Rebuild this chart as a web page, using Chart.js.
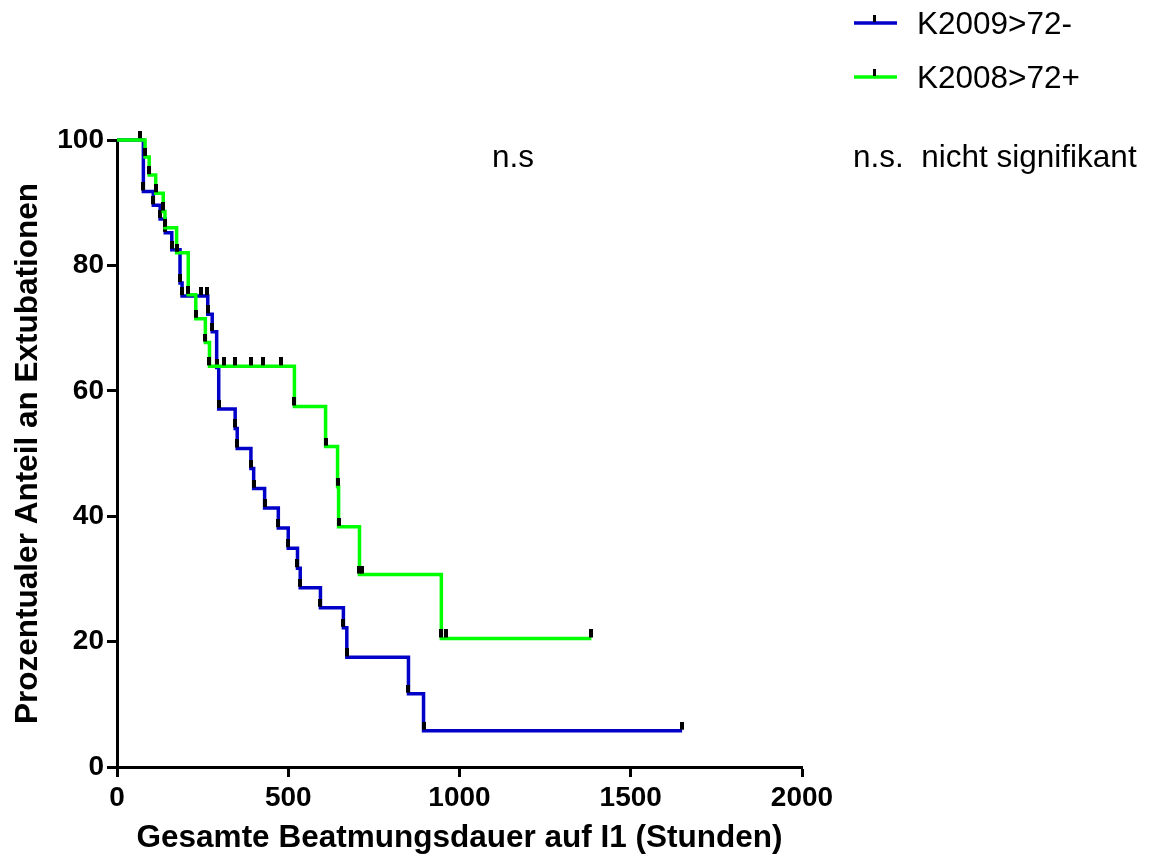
<!DOCTYPE html>
<html lang="de">
<head>
<meta charset="utf-8">
<title>Beatmungsdauer Kaplan-Meier</title>
<script src="https://cdn.jsdelivr.net/npm/chart.js@4.4.1/dist/chart.umd.min.js"></script>
<style>
    html, body { margin: 0; padding: 0; background: #fff; }
    #wrap { width: 1157px; height: 858px; position: relative; }
</style>
</head>
<body>
<div id="wrap"><canvas id="kmChart" width="1157" height="858"></canvas></div>
<script>
// Gruppe K2009>72- : Zeitpunkte (Stunden) und Anteil (%) nach jedem Ereignis/Zensur
const blueLabel = 'K2009>72-';
const blueHours = [0, 67, 77, 106, 126, 141, 160, 184, 190, 245, 262, 265, 278, 291, 297, 345, 351, 391, 399, 431, 471, 500, 527, 535, 594, 661, 671, 851, 895, 1650];
const bluePercent = [100, 100, 91.8, 89.6, 87.4, 85.2, 82.5, 77.2, 75.1, 75.1, 75.1, 72.2, 69.4, 63.7, 57.1, 54.0, 50.8, 47.6, 44.4, 41.3, 38.1, 34.9, 31.7, 28.6, 25.4, 22.2, 17.5, 11.7, 5.8, 5.8];

// Gruppe K2008>72+
const greenLabel = 'K2008>72+';
const greenHours = [0, 82, 94, 113, 135, 140, 174, 208, 230, 258, 270, 311, 345, 391, 425, 479, 518, 609, 644, 647, 708, 714, 947, 962, 1385];
const greenPercent = [100, 97.3, 94.4, 91.5, 88.6, 86.0, 82.0, 75.3, 71.5, 67.7, 63.9, 63.9, 63.9, 63.9, 63.9, 63.9, 57.5, 51.1, 44.7, 38.3, 30.7, 30.7, 20.5, 20.5, 20.5];

const xTicks = [0, 500, 1000, 1500, 2000];
const yTicks = [0, 20, 40, 60, 80, 100];

const blueColor = '#0000c8';
const greenColor = '#00ff00';
const fontFamily = "'Liberation Sans', Arial, Helvetica, sans-serif";

// kleiner senkrechter Strich oberhalb des Punktes als Symbol
function makeTickMark() {
    const c = document.createElement('canvas');
    c.width = 4;
    c.height = 18;
    const g = c.getContext('2d');
    g.fillStyle = '#000';
    g.fillRect(0, 0, 4, 8);
    return c;
}
const tickMark = makeTickMark();

function toPoints(hours, percent) {
    return hours.map((h, i) => ({ x: h, y: percent[i] }));
}

function kmDataset(label, hours, percent, color, order) {
    return {
        label: label,
        data: toPoints(hours, percent),
        stepped: 'before',
        borderColor: color,
        backgroundColor: color,
        borderWidth: 3.5,
        fill: false,
        pointStyle: tickMark,
        pointRadius: ctx => ctx.dataIndex === 0 ? 0 : 3,
        pointHoverRadius: 3,
        clip: false,
        order: order
    };
}

// Legende rechts oben und Signifikanzhinweis
const notesPlugin = {
    id: 'notes',
    afterDraw(chart) {
        const ctx = chart.ctx;
        const rows = [
            { label: blueLabel, color: blueColor, y: 23 },
            { label: greenLabel, color: greenColor, y: 77 }
        ];
        ctx.save();
        ctx.font = '31.5px ' + fontFamily;
        ctx.textBaseline = 'alphabetic';
        ctx.textAlign = 'left';
        rows.forEach(r => {
            ctx.strokeStyle = r.color;
            ctx.lineWidth = 3.5;
            ctx.beginPath();
            ctx.moveTo(854, r.y);
            ctx.lineTo(897, r.y);
            ctx.stroke();
            ctx.fillStyle = '#000';
            ctx.fillRect(873, r.y - 8, 3, 7);
            ctx.fillText(r.label, 917, r.y + 11);
        });
        ctx.fillStyle = '#000';
        ctx.fillText('n.s.  nicht signifikant', 853, 167);
        ctx.fillText('n.s', 492, 167);
        ctx.restore();
    }
};

const chart = new Chart(document.getElementById('kmChart'), {
    type: 'line',
    data: {
        datasets: [
            kmDataset(blueLabel, blueHours, bluePercent, blueColor, 2),
            kmDataset(greenLabel, greenHours, greenPercent, greenColor, 1)
        ]
    },
    options: {
        responsive: false,
        animation: false,
        layout: { padding: { left: 0, top: 140, right: 355, bottom: 0 } },
        plugins: {
            legend: { display: false },
            tooltip: { enabled: false }
        },
        scales: {
            x: {
                type: 'linear',
                min: 0,
                max: 2000,
                afterFit: s => { s.height = 91; },
                afterBuildTicks: s => { s.ticks = xTicks.map(v => ({ value: v })); },
                border: { display: true, color: '#000', width: 3 },
                grid: { drawOnChartArea: false, drawTicks: true, tickLength: 10, tickWidth: 3, tickColor: '#000' },
                ticks: {
                    color: '#000',
                    padding: 4,
                    maxRotation: 0,
                    callback: v => String(v),
                    font: { family: fontFamily, size: 28, weight: 'bold' }
                },
                title: {
                    display: true,
                    text: 'Gesamte Beatmungsdauer auf I1 (Stunden)',
                    color: '#000',
                    padding: { top: 0, bottom: 1 },
                    font: { family: fontFamily, size: 31.5, weight: 'bold' }
                }
            },
            y: {
                type: 'linear',
                min: 0,
                max: 100,
                afterFit: s => { s.width = 117; },
                afterBuildTicks: s => { s.ticks = yTicks.map(v => ({ value: v })); },
                border: { display: true, color: '#000', width: 3 },
                grid: { drawOnChartArea: false, drawTicks: true, tickLength: 10, tickWidth: 3, tickColor: '#000' },
                ticks: {
                    color: '#000',
                    padding: 3,
                    callback: v => String(v),
                    font: { family: fontFamily, size: 28, weight: 'bold' }
                },
                title: {
                    display: true,
                    text: 'Prozentualer Anteil an Extubationen',
                    color: '#000',
                    padding: { top: 9, bottom: 0 },
                    font: { family: fontFamily, size: 31.5, weight: 'bold' }
                }
            }
        }
    },
    plugins: [notesPlugin]
});
</script>
</body>
</html>
